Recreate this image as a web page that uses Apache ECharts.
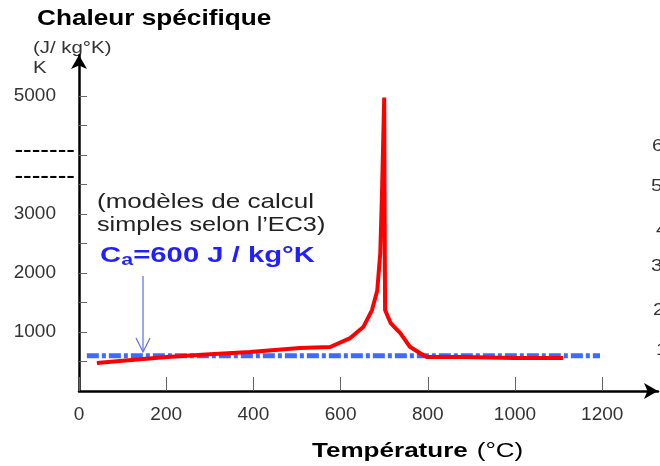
<!DOCTYPE html>
<html>
<head>
<meta charset="utf-8">
<script src="https://cdn.jsdelivr.net/npm/echarts@6/dist/echarts.min.js"></script>
<style>
  html, body { margin: 0; padding: 0; background: #fff; }
  #chart { width: 660px; height: 466px; }
</style>
</head>
<body>
<div id="chart"></div>
<script>
// données (EC3, acier)
var tempEC3 = [41, 100, 202, 300, 392, 507, 576, 622, 652, 672, 684, 691, 695, 700, 701, 702, 715, 730, 737, 759, 789, 798, 851, 881, 996, 1110];
var chaleurEC3 = [475, 515, 576, 625, 660, 729, 746, 898, 1085, 1373, 1700, 2340, 3356, 4980, 3000, 1373, 1150, 1034, 983, 750, 610, 576, 576, 575, 559, 559];
// modèle simplifié Ca = 600
var tempSimple = [18, 1195];
var chaleurSimple = [600, 600];
// graduations
var xTicks = [0, 200, 400, 600, 800, 1000, 1200];
var yTickMarks = [500, 1000, 1500, 2000, 2500, 3000, 3500, 4000, 4500, 5000];
var yLabelValues = [1000, 2000, 3000, 3500, 4000, 5000];
var yLabelTexts = ['1000', '2000', '3000', '-------', '-------', '5000'];

var FONT = '"Liberation Sans", Arial, sans-serif';

function pairs(xs, ys) {
  return xs.map(function (x, i) { return [x, ys[i]]; });
}

var myChart = echarts.init(document.getElementById('chart'));

var option = {
  animation: false,
  grid: { left: 79, right: 2, top: 55, bottom: 75 },
  xAxis: {
    type: 'value',
    min: 0,
    max: 1328,
    axisLine: {
      symbol: ['none', 'arrow'],
      symbolSize: [12, 14],
      lineStyle: { color: '#000', width: 2.5 }
    },
    axisTick: { inside: true, length: 14, customValues: xTicks, lineStyle: { color: '#666', width: 1 } },
    axisLabel: {
      customValues: xTicks,
      formatter: function (v) { return String(v); },
      fontSize: 19, color: '#333', margin: 14, fontFamily: FONT
    },
    splitLine: { show: false }
  },
  yAxis: {
    type: 'value',
    min: 0,
    max: 5700,
    axisLine: {
      show: true,
      symbol: ['none', 'arrow'],
      symbolSize: [12, 14],
      lineStyle: { color: '#000', width: 2.5 }
    },
    axisTick: { show: true, inside: true, length: 8, customValues: yTickMarks, lineStyle: { color: '#666', width: 1 } },
    axisLabel: {
      customValues: yLabelValues,
      margin: 4,
      formatter: function (v) {
        var t = yLabelTexts[yLabelValues.indexOf(v)];
        if (v === 4000) return '{d4|' + t + '}';
        if (v === 3500) return '{d35|' + t + '}';
        return '{n|' + t + '}';
      },
      rich: {
        n: { fontSize: 19, color: '#333', fontFamily: FONT, padding: [0, 19, 0, 0] },
        d4: { fontSize: 26, color: '#000', fontFamily: FONT, padding: [0, 0, 8, 0] },
        d35: { fontSize: 26, color: '#000', fontFamily: FONT, padding: [0, 0, 15, 0] }
      }
    },
    splitLine: { show: false }
  },
  series: [
    {
      name: 'Ca = 600',
      type: 'line',
      data: pairs(tempSimple, chaleurSimple),
      symbol: 'none',
      lineStyle: { color: '#3d6bff', width: 5, type: [12, 3, 4, 3] }
    },
    {
      name: 'EC3',
      type: 'line',
      data: pairs(tempEC3, chaleurEC3),
      symbol: 'none',
      lineStyle: { color: '#ff0000', width: 4 }
    }
  ],
  graphic: [
    {
      type: 'text', x: 37, y: 19, scaleX: 1.19,
      style: { text: 'Chaleur spécifique', font: 'bold 22px ' + FONT, fill: '#000', verticalAlign: 'middle' }
    },
    {
      type: 'text', x: 33, y: 48, scaleX: 1.2,
      style: { text: '(J/ kg°K)', font: '17px ' + FONT, fill: '#333', verticalAlign: 'middle' }
    },
    {
      type: 'text', x: 33, y: 68, scaleX: 1.2,
      style: { text: 'K', font: '17px ' + FONT, fill: '#333', verticalAlign: 'middle' }
    },
    {
      type: 'text', x: 97, y: 202, scaleX: 1.24,
      style: { text: '(modèles de calcul', font: '21px ' + FONT, fill: '#222', verticalAlign: 'middle' }
    },
    {
      type: 'text', x: 97, y: 225, scaleX: 1.2,
      style: { text: 'simples selon l’EC3)', font: '21px ' + FONT, fill: '#222', verticalAlign: 'middle' }
    },
    {
      type: 'group', x: 100, y: 256, scaleX: 1.33,
      children: [
        { type: 'text', x: 0, y: 0, style: { text: 'C', font: 'bold 22px ' + FONT, fill: '#1f1fff', verticalAlign: 'middle' } },
        { type: 'text', x: 16, y: 5, style: { text: 'a', font: 'bold 16px ' + FONT, fill: '#1f1fff', verticalAlign: 'middle' } },
        { type: 'text', x: 25, y: 0, style: { text: '=600 J / kg°K', font: 'bold 22px ' + FONT, fill: '#1f1fff', verticalAlign: 'middle' } }
      ]
    },
    {
      type: 'polyline',
      shape: { points: [[143, 276], [143, 351]] },
      style: { stroke: '#5a6cf0', lineWidth: 1.2, fill: null }
    },
    {
      type: 'polyline',
      shape: { points: [[136, 338], [143, 352], [150, 338]] },
      style: { stroke: '#5a6cf0', lineWidth: 1.2, fill: null }
    },
    {
      type: 'group', x: 312, y: 451, scaleX: 1.24,
      children: [
        { type: 'text', x: 0, y: 0, style: { text: 'Température', font: 'bold 21px ' + FONT, fill: '#000', verticalAlign: 'middle' } },
        { type: 'text', x: 127, y: 0, style: { text: ' (°C)', font: '21px ' + FONT, fill: '#000', verticalAlign: 'middle' } }
      ]
    },
    { type: 'text', x: 652, y: 146, scaleX: 1.2, style: { text: '6', font: '17px ' + FONT, fill: '#333', verticalAlign: 'middle' } },
    { type: 'text', x: 651, y: 186, scaleX: 1.2, style: { text: '5', font: '17px ' + FONT, fill: '#333', verticalAlign: 'middle' } },
    { type: 'text', x: 656, y: 230, scaleX: 1.2, style: { text: '4', font: '17px ' + FONT, fill: '#333', verticalAlign: 'middle' } },
    { type: 'text', x: 651, y: 266, scaleX: 1.2, style: { text: '3', font: '17px ' + FONT, fill: '#333', verticalAlign: 'middle' } },
    { type: 'text', x: 653, y: 310, scaleX: 1.2, style: { text: '2', font: '17px ' + FONT, fill: '#333', verticalAlign: 'middle' } },
    { type: 'text', x: 656, y: 350, scaleX: 1.2, style: { text: '1', font: '17px ' + FONT, fill: '#333', verticalAlign: 'middle' } }
  ]
};

myChart.setOption(option);
</script>
</body>
</html>
